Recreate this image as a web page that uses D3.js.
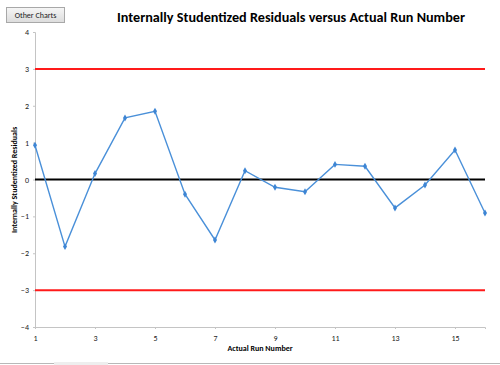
<!DOCTYPE html>
<html><head><meta charset="utf-8">
<script src="https://cdn.jsdelivr.net/npm/d3@7"></script>
<style>body{margin:0;background:#fff}svg{display:block}</style>
</head><body>
<script>
const runs = [1,2,3,4,5,6,7,8,9,10,11,12,13,14,15,16];
const residuals = [0.93,-1.82,0.16,1.67,1.85,-0.40,-1.64,0.24,-0.21,-0.33,0.41,0.36,-0.77,-0.15,0.80,-0.91];
const xTicks = [1,3,5,7,9,11,13,15];
const yTicks = [-4,-3,-2,-1,0,1,2,3,4];
const limits = [3,-3];
const title = "Internally Studentized Residuals versus Actual Run Number";
const xLabel = "Actual Run Number";
const yLabel = "Internally Studentized Residuals";

const W=500,H=365;
const svg=d3.select("body").append("svg").attr("width",W).attr("height",H);
const font="Calibri, Carlito, 'Liberation Sans', Arial, sans-serif";
const x=d3.scaleLinear().domain([1,16]).range([35,485]);
const y=d3.scaleLinear().domain([-4,4]).range([327,32]);

// button
const bg=svg.append("defs").append("linearGradient").attr("id","btn").attr("x1",0).attr("y1",0).attr("x2",0).attr("y2",1);
bg.append("stop").attr("offset",0).attr("stop-color","#f6f6f6");
bg.append("stop").attr("offset",1).attr("stop-color","#dcdcdc");
svg.append("rect").attr("x",6.5).attr("y",7.5).attr("width",58).attr("height",15).attr("fill","url(#btn)").attr("stroke","#a8a8a8");
svg.append("text").attr("x",35.5).attr("y",18).attr("text-anchor","middle").attr("font-family",font).attr("font-size",8).attr("fill","#222").text("Other Charts");

// title
svg.append("text").attr("x",291).attr("y",22).attr("text-anchor","middle").attr("font-family",font).attr("font-weight","bold").attr("font-size",14.5).attr("fill","#000")
  .attr("textLength",348).attr("lengthAdjust","spacingAndGlyphs").text(title);

// axes
const yAxis=d3.axisLeft(y).tickValues(yTicks).tickSize(2).tickFormat(d3.format("d"));
const gy=svg.append("g").attr("transform","translate(35,0)").call(yAxis);
gy.selectAll("path,line").attr("stroke","#c4c4c4");
gy.selectAll("text").attr("font-family",font).attr("font-size",8).attr("fill","#222").attr("x",-6);
const xAxis=d3.axisBottom(x).tickValues(xTicks).tickSize(2).tickFormat(d3.format("d"));
const gx=svg.append("g").attr("transform","translate(0,327)").call(xAxis);
gx.selectAll("path,line").attr("stroke","#c4c4c4");
gx.selectAll("text").attr("font-family",font).attr("font-size",8).attr("fill","#222").attr("dy","1.1em");

// reference lines
svg.selectAll(".lim").data(limits).enter().append("line").attr("x1",x(1)).attr("x2",x(16))
  .attr("y1",d=>y(d)).attr("y2",d=>y(d)).attr("stroke","#ff1a1a").attr("stroke-width",2);
svg.append("line").attr("x1",x(1)).attr("x2",x(16)).attr("y1",y(0)).attr("y2",y(0)).attr("stroke","#000").attr("stroke-width",1.8);

// series
const line=d3.line().x((d,i)=>x(runs[i])).y(d=>y(d));
svg.append("path").datum(residuals).attr("d",line).attr("fill","none").attr("stroke","#4a90d9").attr("stroke-width",1.4);
svg.selectAll(".pt").data(residuals).enter().append("path")
  .attr("transform",(d,i)=>`translate(${x(runs[i])},${y(d)})`)
  .attr("d",d3.symbol(d3.symbolDiamond,14)).attr("fill","#3d85d4");

// axis labels
svg.append("text").attr("x",260).attr("y",351).attr("text-anchor","middle").attr("font-family",font).attr("font-weight","bold").attr("font-size",8).attr("fill","#000").text(xLabel);
svg.append("text").attr("transform","translate(17,180) rotate(-90)").attr("text-anchor","middle").attr("font-family",font).attr("font-weight","bold").attr("font-size",8).attr("fill","#000").text(yLabel);

// bottom tab bar
svg.append("line").attr("x1",0).attr("x2",W).attr("y1",363.5).attr("y2",363.5).attr("stroke","#b8b8b8");
svg.append("rect").attr("x",54).attr("y",362).attr("width",54).attr("height",3).attr("fill","#eeeeee");
</script>
</body></html>
